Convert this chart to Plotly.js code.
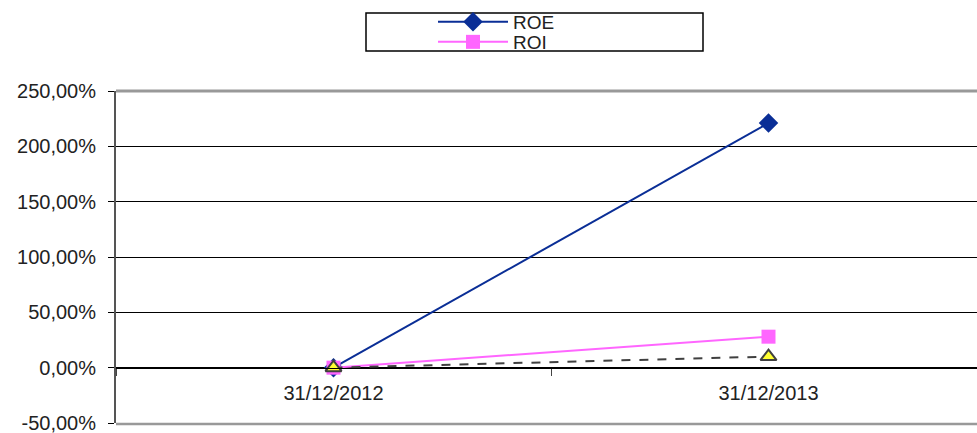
<!DOCTYPE html>
<html>
<head>
<meta charset="utf-8">
<script src="https://cdn.plot.ly/plotly-3.0.1.min.js"></script>
<style>html,body{margin:0;padding:0;background:#fff;}#chart{width:977px;height:433px;}</style>
</head>
<body>
<div id="chart"></div>
<script>
const categories = ['31/12/2012', '31/12/2013'];
const roeValues = [0, 221];
const roiValues = [0, 28];
const thirdValues = [0, 10];
const yTickValues = [-50, 0, 50, 100, 150, 200, 250];
const yTickText = yTickValues.map(v => v.toFixed(2).replace('.', ',') + '%');

const W = 977, H = 433;
const mL = 116, mR = 0, mT = 91, mB = 10;
const pw = W - mL - mR, ph = H - mT - mB;
const px = v => (v - mL) / pw;
const py = v => (H - mB - v) / ph;

const traces = [
  {
    x: categories, y: roeValues, name: 'ROE', type: 'scatter', mode: 'lines+markers',
    legend: 'legend',
    line: {color: '#0A2E96', width: 2},
    marker: {symbol: 'diamond', size: 15, color: '#0A2E96'}
  },
  {
    x: categories, y: roiValues, name: 'ROI', type: 'scatter', mode: 'lines+markers',
    legend: 'legend2',
    line: {color: '#FF66FF', width: 2},
    marker: {symbol: 'square', size: 14, color: '#FF66FF'}
  },
  {
    x: categories, y: thirdValues, name: 'ROA', type: 'scatter', mode: 'lines+markers',
    showlegend: false,
    line: {color: '#404040', width: 2, dash: 'dash'},
    marker: {symbol: 'triangle-up', size: 14, color: '#FFFF33', line: {color: '#404040', width: 2}}
  }
];

const legendBase = {
  xanchor: 'left', yanchor: 'middle',
  bgcolor: 'rgba(0,0,0,0)', borderwidth: 0,
  font: {family: 'Liberation Sans, Arial, sans-serif', size: 19, color: '#222'},
  itemwidth: 70
};

const layout = {
  width: W, height: H,
  margin: {l: mL, r: mR, t: mT, b: mB, pad: 0},
  paper_bgcolor: '#fff', plot_bgcolor: '#fff',
  font: {family: 'Liberation Sans, Arial, sans-serif', size: 20, color: '#222'},
  showlegend: true,
  legend: Object.assign({}, legendBase, {x: px(433), y: py(22)}),
  legend2: Object.assign({}, legendBase, {x: px(433), y: py(42)}),
  xaxis: {
    type: 'category',
    range: [-0.5, -0.5 + pw * 2 / 870],
    anchor: 'free', position: (50 / 300),
    showline: true, linecolor: '#000', linewidth: 1,
    ticks: 'outside', tickson: 'boundaries', ticklen: 7, tickcolor: '#444',
    showgrid: false, zeroline: false,
    tickfont: {size: 20, color: '#222'},
    ticklabelstandoff: 7,
    fixedrange: true
  },
  yaxis: {
    range: [-50, 250], tickvals: yTickValues, ticktext: yTickText,
    showgrid: true, gridcolor: '#000', gridwidth: 1,
    zeroline: false,
    showline: true, linecolor: '#555', linewidth: 2,
    ticks: 'outside', ticklen: 6, tickcolor: '#000',
    tickfont: {size: 20, color: '#222'},
    ticklabelstandoff: 8,
    ticklabeloverflow: 'allow',
    fixedrange: true
  },
  shapes: [
    {type: 'line', xref: 'paper', yref: 'paper', x0: 0, x1: 1.05, y0: 1, y1: 1, line: {color: '#999', width: 3}, layer: 'above'},
    {type: 'line', xref: 'paper', yref: 'paper', x0: 0, x1: 1.05, y0: py(H - mB + 1), y1: py(H - mB + 1), line: {color: '#999', width: 2.5}, layer: 'above'},
    {type: 'rect', xref: 'paper', yref: 'paper', x0: px(366), x1: px(703), y0: py(51), y1: py(13), line: {color: '#000', width: 1.5}, fillcolor: 'rgba(0,0,0,0)'}
  ]
};

Plotly.newPlot('chart', traces, layout, {displayModeBar: false, staticPlot: true});
</script>
</body>
</html>
